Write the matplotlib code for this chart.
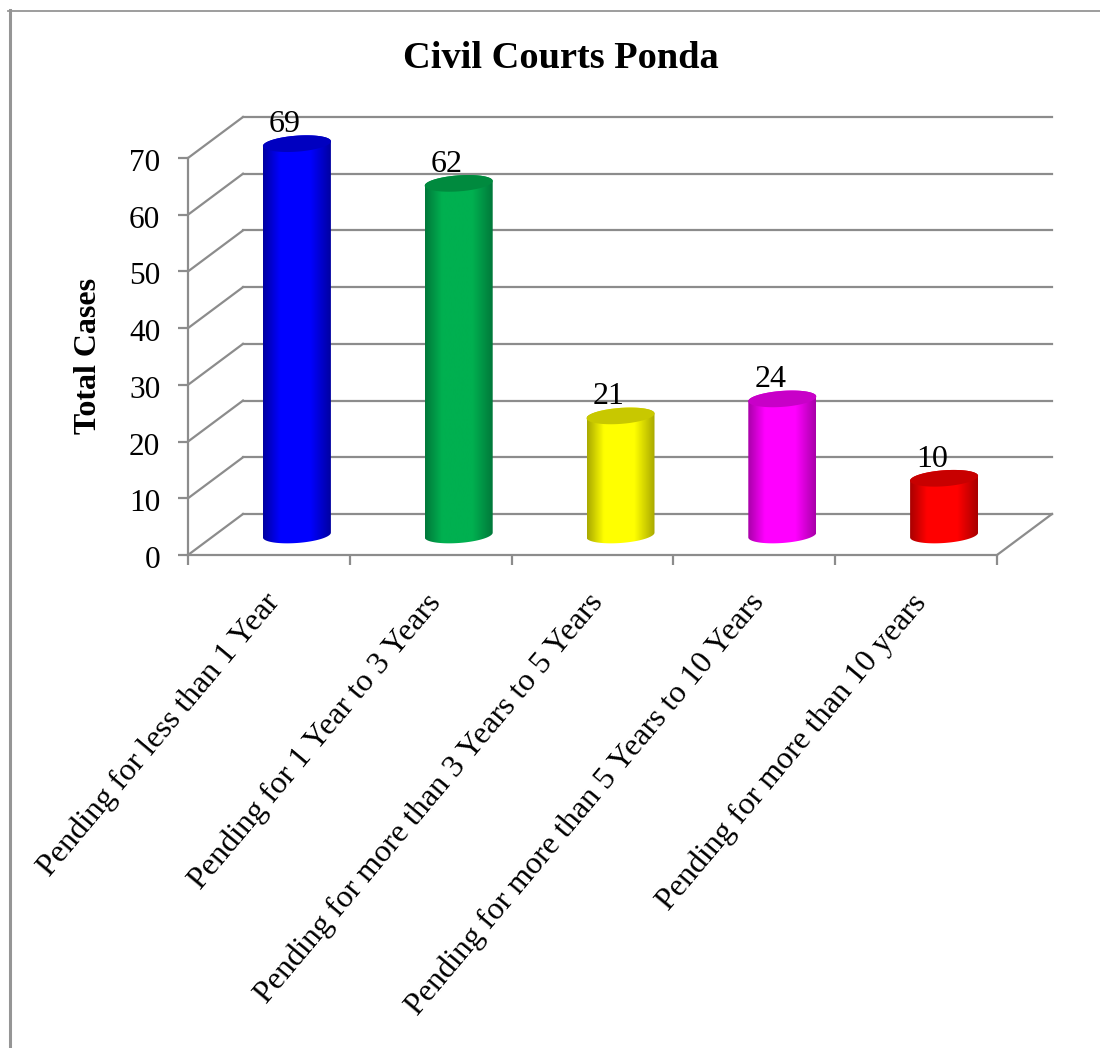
import numpy as np
import matplotlib
matplotlib.use('Agg')
import matplotlib.pyplot as plt
from matplotlib.lines import Line2D
from matplotlib.path import Path
from matplotlib.patches import PathPatch
from matplotlib.colors import LinearSegmentedColormap
from matplotlib.transforms import ScaledTranslation

title = 'Civil Courts Ponda'
ylabel = 'Total Cases'
categories = ['Pending for less than 1 Year', 'Pending for 1 Year to 3 Years',
              'Pending for more than 3 Years to 5 Years',
              'Pending for more than 5 Years to 10 Years',
              'Pending for more than 10 years']
values = [69, 62, 21, 24, 10]
body_colors = ['#0000ff', '#00b050', '#ffff00', '#ff00ff', '#ff0000']
cap_colors = ['#0000c0', '#008a3e', '#c8c800', '#c800c8', '#c80000']
edge_colors = ['#0000a0', '#00783a', '#a8a800', '#a800a8', '#a80000']
yticks = [0, 10, 20, 30, 40, 50, 60, 70]

W, H = 1100, 1048
GREY = '#8c8c8c'
plt.rcParams['font.family'] = ['Liberation Serif', 'DejaVu Serif']

fig = plt.figure(figsize=(W / 100, H / 100), dpi=100)
# front plane of the 3d box, in pixels
left, right, bottom, top = 188, 997, 555, 158
ax = fig.add_axes([left / W, 1 - bottom / H, (right - left) / W, (bottom - top) / H])
ax.set_xlim(0, 5)
ax.set_ylim(0, 70)

px = 5 / (right - left)
py = 70 / (bottom - top)
depth_x = 55 * px
depth_y = 41 * py

# back wall and side lines
for v in yticks:
    ax.plot([0, depth_x], [v, v + depth_y], color=GREY, lw=1.6, clip_on=False, zorder=1)
    ax.plot([depth_x, 5 + depth_x], [v + depth_y, v + depth_y], color=GREY, lw=1.6,
            clip_on=False, zorder=1)
ax.plot([5, 5 + depth_x], [0, depth_y], color=GREY, lw=1.6, clip_on=False, zorder=1)

# cylinders
half_w = 34 * px
half_h = 8 * py
tilt = 0.07 * (py / px)
base = 20 * py
t = np.linspace(0, 2 * np.pi, 121)
for i, (val, col, cap, edge) in enumerate(zip(values, body_colors, cap_colors, edge_colors)):
    cx = i + 0.5 + 28 * px
    ex = cx + half_w * np.cos(t)
    ey = half_h * np.sin(t) + tilt * (ex - cx)
    # outline: lower half of the base ellipse and upper half of the top one
    low = t >= np.pi
    up = t <= np.pi
    xs = np.r_[ex[low], ex[up]]
    ys = np.r_[base + ey[low], base + val + ey[up]]
    clip = PathPatch(Path(np.c_[xs, ys]), transform=ax.transData, fc='none', ec='none')
    ax.add_patch(clip)

    cmap = LinearSegmentedColormap.from_list(
        'c', [(0, edge), (0.25, col), (0.7, col), (1, edge)])
    grad = np.linspace(0, 1, 256).reshape(1, -1)
    im = ax.imshow(grad, cmap=cmap, aspect='auto', zorder=3, interpolation='bilinear',
                   extent=[cx - half_w, cx + half_w, 0, 80])
    im.set_clip_box(fig.bbox)  # otherwise the axes box cuts the tall bars
    im.set_clip_path(clip)
    ax.fill(ex, base + val + ey, color=cap, lw=0, zorder=4, clip_on=False)

    ax.annotate(str(val), (cx, base + val), xytext=(-12, 19), textcoords='offset pixels',
                ha='center', va='center', fontsize=23, color='black', zorder=5,
                annotation_clip=False)

ax.set_xlim(0, 5)
ax.set_ylim(0, 70)

for s in ['top', 'right']:
    ax.spines[s].set_visible(False)
for s in ['left', 'bottom']:
    ax.spines[s].set_color(GREY)
    ax.spines[s].set_linewidth(1.6)
ax.patch.set_alpha(0)

ax.set_yticks(yticks)
ax.set_xticks(range(6))
ax.set_xticklabels([])
ax.set_xticks(np.arange(5) + 0.5, minor=True)
ax.set_xticklabels(categories, minor=True, rotation=50, ha='right', va='top',
                   rotation_mode='anchor', fontsize=23)
ax.tick_params(axis='x', which='minor', length=0, pad=24)
ax.tick_params(axis='both', which='major', color=GREY, width=1.6, length=7)
ax.tick_params(axis='y', labelsize=22.5, pad=13)

# nudge tick labels by a few pixels
shift_x = ScaledTranslation(-6 / 100, 0, fig.dpi_scale_trans)
for lab in ax.get_xticklabels(minor=True):
    lab.set_transform(lab.get_transform() + shift_x)
shift_y = ScaledTranslation(0, -2 / 100, fig.dpi_scale_trans)
for lab in ax.get_yticklabels():
    lab.set_transform(lab.get_transform() + shift_y)

fig.text(561 / W, 1 - 58 / H, title, ha='center', va='center', fontsize=27.6, fontweight='bold')
fig.text(89 / W, 1 - 356 / H, ylabel, ha='center', va='center', rotation=90,
         fontsize=23, fontweight='bold')

# page border
fig.add_artist(Line2D([9.5 / W, 9.5 / W], [0, 1 - 10 / H], color='#959595', lw=2.2))
fig.add_artist(Line2D([8 / W, 1], [1 - 11 / H, 1 - 11 / H], color='#959595', lw=1.3))

fig.savefig('out.png', dpi=100)
